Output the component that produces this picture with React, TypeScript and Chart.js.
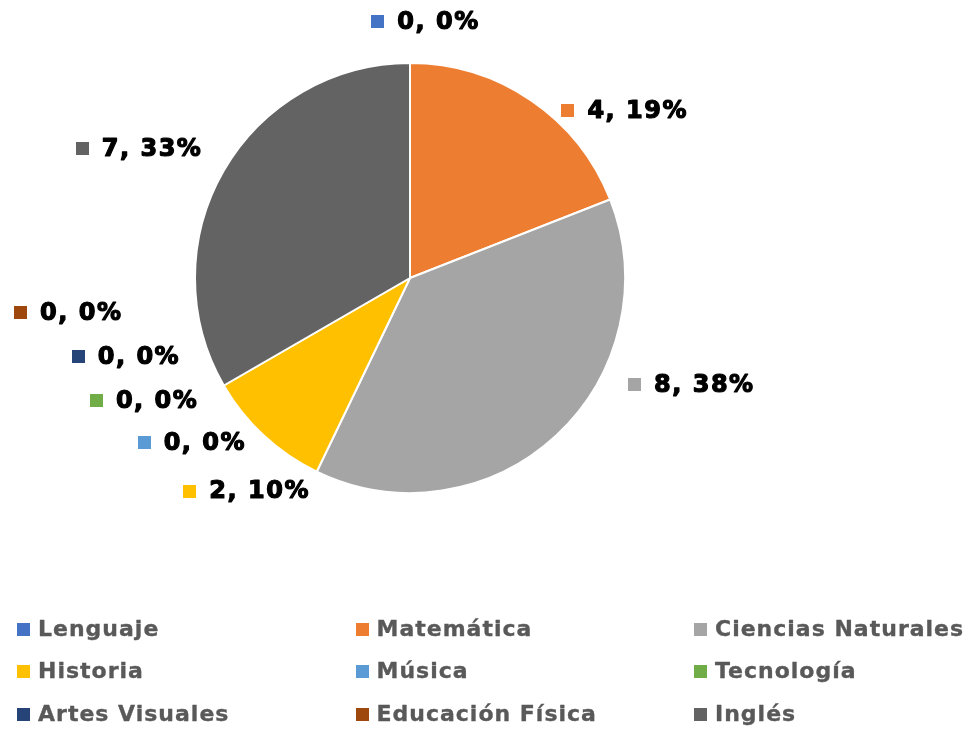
import React, { useEffect, useRef } from "react";
import { Chart, registerables } from "chart.js";

Chart.register(...registerables);

const categories = [
  "Lenguaje",
  "Matemática",
  "Ciencias Naturales",
  "Historia",
  "Música",
  "Tecnología",
  "Artes Visuales",
  "Educación Física",
  "Inglés",
];
const values = [0, 4, 8, 2, 0, 0, 0, 0, 7];
const colors = [
  "#4472C4",
  "#ED7D31",
  "#A5A5A5",
  "#FFC000",
  "#5B9BD5",
  "#70AD47",
  "#264478",
  "#9E480E",
  "#636363",
];

// Label placement (polar, relative to pie centre): angle in degrees clockwise from top, distance in radii
const labelAngle = [3.3, 52.0, 110.8, 217.6, 233.1, 245.3, 254.6, 264.2, 295.5];
const labelDist = [1.196, 1.263, 1.396, 1.251, 1.273, 1.365, 1.374, 1.601, 1.4];

const W = 969;
const H = 730;

const labelsPlugin = {
  id: "sliceLabels",
  afterDatasetsDraw(chart: any) {
    const ctx = chart.ctx as CanvasRenderingContext2D;
    const meta = chart.getDatasetMeta(0);
    const first = meta.data[0] as any;
    if (!first) return;
    const cx = first.x;
    const cy = first.y;
    const R = first.outerRadius;
    const total = values.reduce((a, b) => a + b, 0);
    const box = 13;
    const gapBT = 13;
    const ls = 1.5;
    ctx.save();
    ctx.font = "bold 24px 'DejaVu Sans', sans-serif";
    (ctx as any).letterSpacing = ls + "px";
    ctx.textBaseline = "middle";
    ctx.textAlign = "left";
    values.forEach((v, i) => {
      const pct = Math.round((v / total) * 100);
      const text = `${v}, ${pct}%`;
      const tw = ctx.measureText(text).width - ls;
      const bw = box + gapBT + tw;
      const a = (labelAngle[i] * Math.PI) / 180;
      const px = cx + Math.sin(a) * R * labelDist[i];
      const py = cy - Math.cos(a) * R * labelDist[i];
      const left = px - bw / 2;
      ctx.fillStyle = colors[i];
      ctx.fillRect(Math.round(left), Math.round(py - box / 2), box, box);
      ctx.fillStyle = "#000000";
      ctx.strokeStyle = "#000000";
      ctx.lineWidth = 1.2;
      ctx.lineJoin = "round";
      ctx.fillText(text, left + box + gapBT, py + 1);
      ctx.strokeText(text, left + box + gapBT, py + 1);
    });
    ctx.restore();
  },
};

const legendPlugin = {
  id: "gridLegend",
  afterDraw(chart: any) {
    const ctx = chart.ctx as CanvasRenderingContext2D;
    const colStart = 17;
    const colWidth = 338.5;
    const rowStart = 629;
    const rowHeight = 42.5;
    const box = 13;
    ctx.save();
    ctx.font = "bold 22px 'DejaVu Sans', sans-serif";
    (ctx as any).letterSpacing = "1px";
    ctx.textBaseline = "middle";
    ctx.textAlign = "left";
    categories.forEach((c, i) => {
      const col = i % 3;
      const row = Math.floor(i / 3);
      const x = colStart + col * colWidth;
      const y = rowStart + row * rowHeight;
      ctx.fillStyle = colors[i];
      ctx.fillRect(Math.round(x), Math.round(y - box / 2), box, box);
      ctx.fillStyle = "#595959";
      ctx.strokeStyle = "#595959";
      ctx.lineWidth = 0.35;
      ctx.lineJoin = "round";
      ctx.fillText(c, x + box + 8, y + 1);
      ctx.strokeText(c, x + box + 8, y + 1);
    });
    ctx.restore();
  },
};

export default function App() {
  const ref = useRef<HTMLCanvasElement | null>(null);
  useEffect(() => {
    if (!ref.current) return;
    const chart = new Chart(ref.current, {
      type: "pie",
      data: {
        labels: categories,
        datasets: [
          {
            data: values,
            backgroundColor: colors,
            borderColor: "#ffffff",
            borderWidth: 2,
          },
        ],
      },
      options: {
        responsive: false,
        animation: false,
        layout: { padding: { left: 194, right: 343, top: 62, bottom: 236 } },
        plugins: {
          legend: { display: false },
          tooltip: { enabled: false },
        },
      },
      plugins: [labelsPlugin, legendPlugin],
    });
    return () => chart.destroy();
  }, []);
  return (
    <div style={{ position: "absolute", left: 0, top: 0, width: W, height: H, background: "#fff" }}>
      <canvas ref={ref} width={W} height={H} style={{ width: W, height: H, display: "block" }} />
    </div>
  );
}
